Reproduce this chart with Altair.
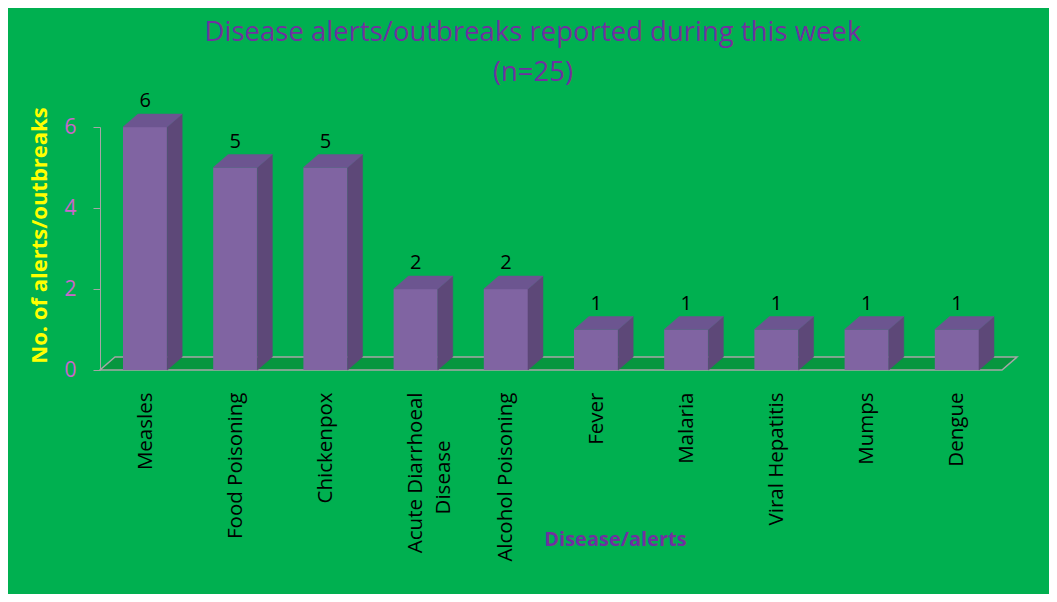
import json
import altair as alt
import pandas as pd

# ---- data ----
diseases = ["Measles", "Food Poisoning", "Chickenpox", "Acute Diarrhoeal Disease",
            "Alcohol Poisoning", "Fever", "Malaria", "Viral Hepatitis", "Mumps", "Dengue"]
counts = [6, 5, 5, 2, 2, 1, 1, 1, 1, 1]
y_ticks = [0, 2, 4, 6]
title_lines = ["Disease alerts/outbreaks reported during this week", "(n=25)"]
x_title = "Disease/alerts"
y_title = "No. of alerts/outbreaks"

# ---- style constants (3-D look) ----
DX = 0.166   # depth to the right, in category units
DY = 0.32    # depth upward, in value units
BL, BR = 0.255, 0.745
N = len(diseases)

FONT = "Open Sans"
FRONT, SIDE, TOP = "#8064A2", "#5D4878", "#6C5590"

idx = list(range(N))
front = pd.DataFrame({"disease": diseases, "count": counts,
                      "x0": [i + BL for i in idx], "x1": [i + BR for i in idx],
                      "xc": [i + 0.5 for i in idx],
                      "ylab": [c + DY for c in counts]})

side_rows, top_rows = [], []
for i, d, c in zip(idx, diseases, counts):
    side_rows.append({"disease": d, "x": i + BR, "ytop": c, "ybot": 0})
    side_rows.append({"disease": d, "x": i + BR + DX, "ytop": c + DY, "ybot": DY})
    top_rows.append({"disease": d, "y": c, "xl": i + BL, "xr": i + BR})
    top_rows.append({"disease": d, "y": c + DY, "xl": i + BL + DX, "xr": i + BR + DX})
side = pd.DataFrame(side_rows)
top = pd.DataFrame(top_rows)
floor = pd.DataFrame({"y": [0, DY], "xl": [0, DX], "xr": [N, N + DX]})


def wrap(name, limit=20):
    # two centred lines for long names (labels are end-aligned, so pad the short line)
    if len(name) > limit:
        k = name.rfind(" ", 0, limit)
        a, b = name[:k], name[k + 1:]
        pad = max(0, round((len(a) - len(b)) * 1.0))
        return [a, b + "\u00a0" * pad + "\u200b"]
    return name


label_js = json.dumps([wrap(d) for d in diseases], ensure_ascii=False)

xs = alt.Scale(domain=[0, N], nice=False, zero=False)
ys = alt.Scale(domain=[0, max(y_ticks)], nice=False)

X_AX = alt.Axis(values=[i + 0.5 for i in idx],
                labelExpr=f"{label_js}[round(datum.value - 0.5)]",
                labelAngle=270, labelAlign="right", labelBaseline="middle",
                labelFont=FONT, labelFontSize=20.5, labelColor="black",
                labelPadding=22, labelLineHeight=28, labelOverlap=False,
                ticks=False, tickSize=0, domain=False, grid=False,
                title=x_title, titleFont=FONT, titleFontSize=20,
                titleFontWeight="bold", titleColor="#7030A0",
                titleX=515, titleY=175, titleAlign="center",
                titleBaseline="alphabetic")
Y_AX = alt.Axis(values=y_ticks, grid=False, domainColor="#A6A6A6",
                tickColor="#A6A6A6", tickSize=7, labelColor="#CC66CC",
                labelFont=FONT, labelFontSize=21, labelPadding=17,
                title=y_title, titleFont=FONT, titleFontSize=22,
                titleFontWeight="bold", titleColor="#FFFF00", titlePadding=12,
                titleY=108)

floor_layer = alt.Chart(floor).mark_area(
    orient="horizontal", fill="#07963F", stroke="#A6A6A6", strokeWidth=1.5
).encode(y=alt.Y("y:Q", scale=ys, axis=Y_AX),
         x=alt.X("xl:Q", scale=xs, axis=X_AX), x2="xr:Q")

front_layer = alt.Chart(front).mark_rect(color=FRONT).encode(
    x=alt.X("x0:Q", scale=xs, axis=X_AX), x2="x1:Q",
    y=alt.Y("count:Q", scale=ys, axis=Y_AX), y2=alt.datum(0))

side_layer = alt.Chart(side).mark_area(
    orient="vertical", color=SIDE, stroke=SIDE, strokeWidth=0.5
).encode(x=alt.X("x:Q", scale=xs, axis=X_AX),
         y=alt.Y("ytop:Q", scale=ys, axis=Y_AX), y2="ybot:Q",
         detail="disease:N")

top_layer = alt.Chart(top).mark_area(
    orient="horizontal", color=TOP, stroke=TOP, strokeWidth=0.5
).encode(y=alt.Y("y:Q", scale=ys, axis=Y_AX),
         x=alt.X("xl:Q", scale=xs, axis=X_AX), x2="xr:Q",
         detail="disease:N")

text_layer = alt.Chart(front).mark_text(
    font=FONT, fontSize=20, color="black", baseline="alphabetic", dy=-7
).encode(x=alt.X("xc:Q", scale=xs, axis=X_AX),
         y=alt.Y("ylab:Q", scale=ys, axis=Y_AX),
         text="count:Q")

chart = alt.layer(floor_layer, front_layer, side_layer, top_layer, text_layer).properties(
    width=902, height=243,
    autosize=alt.AutoSizeParams(type="none"),
    padding={"left": 92, "top": 119, "right": 47, "bottom": 224},
    background="#00B050",
    title=alt.TitleParams(text=title_lines, font=FONT, fontSize=27.5,
                          fontWeight="normal", color="#7030A0",
                          anchor="middle", lineHeight=40, offset=5, dx=-18),
).configure_view(stroke=None)

chart.save("out.html", embed_options={"renderer": "svg", "actions": False})
